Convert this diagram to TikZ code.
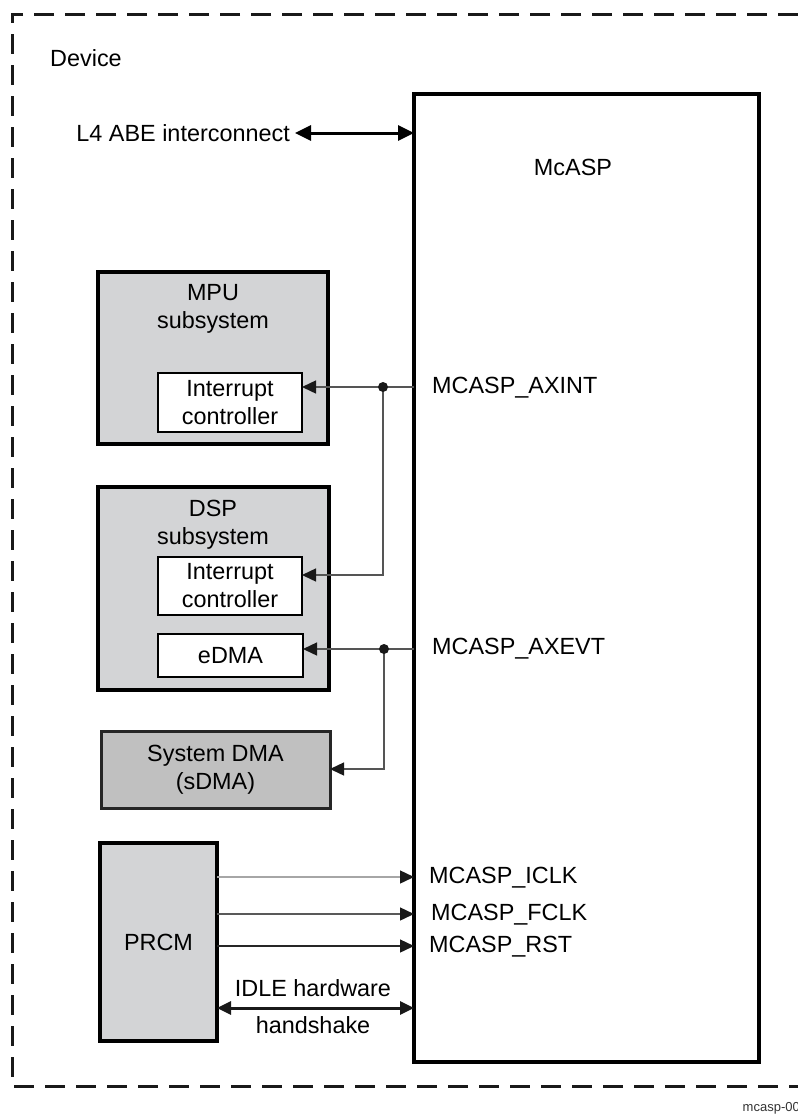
\documentclass[tikz,border=0pt]{standalone}
\usepackage{fontspec}
\setmainfont{Liberation Sans}
\usetikzlibrary{arrows.meta}
\definecolor{subgray}{RGB}{211,212,214}
\definecolor{sdmagray}{RGB}{192,192,192}
\definecolor{wiregray}{RGB}{85,85,85}
\newcommand{\lblfont}{\fontsize{23.4}{28}\selectfont}
\tikzset{
  bigbox/.style={draw=black, line width=3.5pt, fill=subgray, inner sep=0pt, outer sep=0pt, anchor=north west},
  inbox/.style={draw=black, line width=2.5pt, fill=white, inner sep=0pt, outer sep=0pt, anchor=north west},
  txt/.style={font=\lblfont, align=center, inner sep=0pt},
  wire/.style={draw=wiregray, line width=1.4pt},
  tip/.style={-{Triangle[length=14pt,width=13pt,color=black!90]}},
  dot/.style={fill=black!90}
}
\begin{document}
\begin{tikzpicture}[x=1pt,y=-1pt]
\useasboundingbox (0,0) rectangle (798,1114);
% device border
\draw[line width=3pt, draw=black!90, dash pattern=on 20pt off 11pt] (798,14) -- (12,14) -- (12,1086) -- (798,1086);
\node[txt, anchor=west] (device) at (50,58) {Device};
% McASP
\node[draw=black, line width=3.8pt, fill=white, inner sep=0pt, outer sep=0pt, anchor=north west,
      minimum width=345pt, minimum height=968pt] (mcasp) at (414,94) {};
\node[txt] (mcasptxt) at (573,167) {McASP};
% L4
\node[txt, anchor=east] (l4) at (290,133) {L4 ABE interconnect};
\draw[line width=3pt, {Triangle[length=16pt,width=15pt]}-{Triangle[length=16pt,width=15pt]}]
  ([xshift=5pt]l4.east) -- (mcasp.west |- l4.east);
% MPU
\node[bigbox, minimum width=230pt, minimum height=172pt] (mpu) at (98,272) {};
\node[txt] (mputxt) at (213,309) {MPU\\subsystem};
\node[inbox, minimum width=144pt, minimum height=59pt] (mpuic) at (158,373) {};
\node[txt] (mpuictxt) at (mpuic.center) {Interrupt\\controller};
% DSP
\node[bigbox, minimum width=231pt, minimum height=203pt] (dsp) at (98,487) {};
\node[txt] (dsptxt) at (213,525) {DSP\\subsystem};
\node[inbox, minimum width=144pt, minimum height=58pt] (dspic) at (158,557) {};
\node[txt] (dspictxt) at (dspic.center) {Interrupt\\controller};
\node[inbox, minimum width=145pt, minimum height=43pt] (edma) at (158,634) {};
\node[txt] (edmatxt) at (edma.center) {eDMA};
% SDMA
\node[bigbox, draw=black!85, line width=3pt, fill=sdmagray, minimum width=229pt, minimum height=77pt] (sdma) at (101,731) {};
\node[txt] (sdmatxt) at (sdma.center) {System DMA\\(sDMA)};
% PRCM
\node[bigbox, minimum width=117pt, minimum height=198pt] (prcm) at (100,843) {};
\node[txt] (prcmtxt) at (prcm.center) {PRCM};
% AXINT
\coordinate (d1) at (383,387);
\coordinate (c2) at (383,575);
\draw[wire] (mcasp.west |- d1) -- (d1);
\draw[wire, tip] (d1) -- (mpuic.east |- d1);
\draw[wire, tip] (d1) -- (c2) -- (dspic.east |- c2);
\fill[dot] (d1) circle (5pt);
\node[txt, anchor=west] (axint) at (432,388) {MCASP\_AXINT};
% AXEVT
\coordinate (d2) at (384,649);
\coordinate (c3) at (384,769);
\draw[wire] (mcasp.west |- d2) -- (d2);
\draw[wire, tip] (d2) -- (edma.east |- d2);
\draw[wire, tip] (d2) -- (c3) -- (sdma.east |- c3);
\fill[dot] (d2) circle (5pt);
\node[txt, anchor=west] (axevt) at (432,649) {MCASP\_AXEVT};
% PRCM signals
\coordinate (y1) at (0,877);
\coordinate (y2) at (0,914);
\coordinate (y3) at (0,946);
\coordinate (y4) at (0,1008);
\draw[wire, draw=black!35, tip] (prcm.east |- y1) -- (mcasp.west |- y1);
\draw[wire, draw=black!65, tip] (prcm.east |- y2) -- (mcasp.west |- y2);
\draw[wire, draw=black!85, tip] (prcm.east |- y3) -- (mcasp.west |- y3);
\node[txt, anchor=west] (iclk) at (429,878) {MCASP\_ICLK};
\node[txt, anchor=west] (fclk) at (431,915) {MCASP\_FCLK};
\node[txt, anchor=west] (rst) at (429,947) {MCASP\_RST};
\draw[line width=3pt, draw=black!90, {Triangle[length=14pt,width=13pt]}-{Triangle[length=14pt,width=13pt]}]
  (prcm.east |- y4) -- (mcasp.west |- y4);
\node[txt] (idle1) at (313,988) {IDLE hardware};
\node[txt] (idle2) at (313,1025) {handshake};
% figure id
\node[font=\fontsize{13}{15}\selectfont, anchor=east, inner sep=0pt, text=black!80] (figid) at (800,1108) {mcasp-00};
\end{tikzpicture}
\end{document}
